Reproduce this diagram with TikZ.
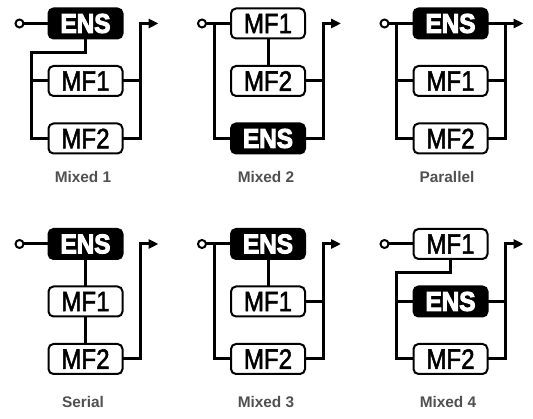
\documentclass[tikz,border=0pt]{standalone}
\usepackage{fontspec}
\setmainfont{Liberation Sans}
\newfontfamily\boxfont[FakeBold=2]{Liberation Sans}
\newfontfamily\ensfont[FakeBold=4]{Liberation Sans Bold}
\usepackage{tikz}
\usetikzlibrary{positioning,arrows.meta}

\definecolor{capgray}{HTML}{505050}

\begin{document}
\begin{tikzpicture}[%
        x=1pt,y=1pt,
        node distance=27.5pt,
        mfbox/.style={%
          rectangle,
          rounded corners=5pt,
          minimum width=74pt,
          minimum height=30pt,
          inner sep=0pt, outer sep=0pt,
          draw, line width=2pt, fill=white,
          font=\boxfont\fontsize{28}{30}\selectfont
        },
        ensbox/.style={%
          mfbox, fill=black, text=white,
          font=\ensfont\fontsize{27}{30}\selectfont
        },
        wire/.style={line width=3pt},
        outwire/.style={wire,-{Triangle[length=10pt,width=9pt]}},
        port/.style={%
          circle, draw, line width=2pt, fill=white,
          minimum size=8pt, inner sep=0pt, outer sep=0pt
        },
        caption/.style={%
          text=capgray,
          font=\bfseries\fontsize{15.4}{18}\selectfont
        }
      ]
      \useasboundingbox (0,0) rectangle (533,-419);
      \newcommand{\mf}[1]{\scalebox{0.86}[1]{#1}}
      \newcommand{\ens}{\scalebox{0.9}[1]{ENS}}

      % Mixed 1
      \node[ensbox] (a1) at (85.5,-23.5) {\ens};
      \node[mfbox] (a2) [below=of a1] {\mf{MF1}};
      \node[mfbox] (a3) [below=of a2] {\mf{MF2}};
      \coordinate (al) at (31.5,-52.25);
      \coordinate (ar) at (140.5,-23.5);
      \coordinate (aout) at (158.5,-23.5);
      \node[port] (ain) at (19.5,-23.5) {};
      \draw[wire] (ain) -- (a1.west);
      \draw[wire] (a1.south) -- (a1.south |- al) -- (al) |- (a3.west);
      \draw[wire] (al |- a2) -- (a2.west);
      \draw[wire] (a2.east) -- (a2 -| ar);
      \draw[outwire] (a3.east) -| (ar) -- (aout);
      \node[caption] (acap) at (83,-177) {Mixed 1};

      % Mixed 2
      \node[mfbox] (b1) at (268,-23.5) {\mf{MF1}};
      \node[mfbox] (b2) [below=of b1] {\mf{MF2}};
      \node[ensbox] (b3) [below=of b2] {\ens};
      \coordinate (bl) at (214,-23.5);
      \coordinate (br) at (323,-23.5);
      \coordinate (bout) at (341,-23.5);
      \node[port] (bin) at (202,-23.5) {};
      \draw[wire] (bin) -- (b1.west);
      \draw[wire] (bl) |- (b3.west);
      \draw[wire] (b1.south) -- (b2.north);
      \draw[wire] (b2.east) -- (b2 -| br);
      \draw[outwire] (b3.east) -| (br) -- (bout);
      \node[caption] (bcap) at (266,-177) {Mixed 2};

      % Parallel
      \node[ensbox] (c1) at (450.5,-23.5) {\ens};
      \node[mfbox] (c2) [below=of c1] {\mf{MF1}};
      \node[mfbox] (c3) [below=of c2] {\mf{MF2}};
      \coordinate (cl) at (396.5,-23.5);
      \coordinate (cr) at (505.5,-23.5);
      \coordinate (cout) at (523.5,-23.5);
      \node[port] (cin) at (384.5,-23.5) {};
      \draw[wire] (cin) -- (c1.west);
      \draw[wire] (cl) |- (c3.west);
      \draw[wire] (cl |- c2) -- (c2.west);
      \draw[outwire] (c1.east) -- (cout);
      \draw[wire] (c2.east) -- (c2 -| cr);
      \draw[wire] (c3.east) -| (cr);
      \node[caption] (ccap) at (447,-177) {Parallel};

      % Serial
      \node[ensbox] (d1) at (85.5,-244) {\ens};
      \node[mfbox] (d2) [below=of d1] {\mf{MF1}};
      \node[mfbox] (d3) [below=of d2] {\mf{MF2}};
      \coordinate (dr) at (140.5,-244);
      \coordinate (dout) at (158.5,-244);
      \node[port] (din) at (19.5,-244) {};
      \draw[wire] (din) -- (d1.west);
      \draw[wire] (d1.south) -- (d2.north);
      \draw[wire] (d2.south) -- (d3.north);
      \draw[outwire] (d3.east) -| (dr) -- (dout);
      \node[caption] (dcap) at (83,-402) {Serial};

      % Mixed 3
      \node[ensbox] (e1) at (268,-244) {\ens};
      \node[mfbox] (e2) [below=of e1] {\mf{MF1}};
      \node[mfbox] (e3) [below=of e2] {\mf{MF2}};
      \coordinate (el) at (214,-244);
      \coordinate (er) at (323,-244);
      \coordinate (eout) at (341,-244);
      \node[port] (ein) at (202,-244) {};
      \draw[wire] (ein) -- (e1.west);
      \draw[wire] (el) |- (e3.west);
      \draw[wire] (e1.south) -- (e2.north);
      \draw[wire] (e2.east) -- (e2 -| er);
      \draw[outwire] (e3.east) -| (er) -- (eout);
      \node[caption] (ecap) at (266,-402) {Mixed 3};

      % Mixed 4
      \node[mfbox] (f1) at (450.5,-244) {\mf{MF1}};
      \node[ensbox] (f2) [below=of f1] {\ens};
      \node[mfbox] (f3) [below=of f2] {\mf{MF2}};
      \coordinate (fl) at (396.5,-273);
      \coordinate (fr) at (505.5,-244);
      \coordinate (fout) at (523.5,-244);
      \node[port] (fin) at (384.5,-244) {};
      \draw[wire] (fin) -- (f1.west);
      \draw[wire] (f1.south) -- (f1.south |- fl) -- (fl) |- (f3.west);
      \draw[wire] (fl |- f2) -- (f2.west);
      \draw[wire] (f2.east) -- (f2 -| fr);
      \draw[outwire] (f3.east) -| (fr) -- (fout);
      \node[caption] (fcap) at (448,-402) {Mixed 4};
  \end{tikzpicture}
\end{document}
